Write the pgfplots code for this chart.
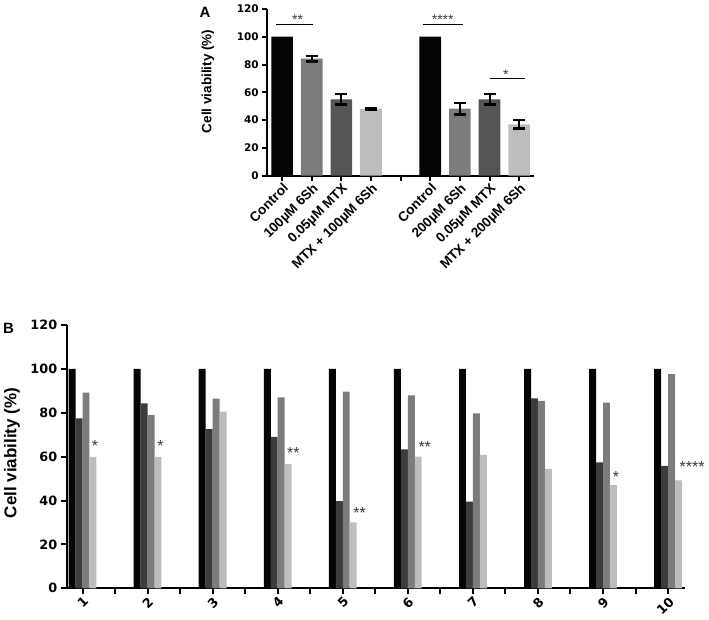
\documentclass[border=0pt]{standalone}
\usepackage{pgfplots}
\pgfplotsset{compat=1.18}
\usepackage{fontspec}
\setmainfont{Liberation Sans}
\newfontfamily\numfont{DejaVu Sans}
\definecolor{cblack}{HTML}{050505}
\definecolor{adark}{HTML}{555555}
\definecolor{amid}{HTML}{7C7C7C}
\definecolor{alight}{HTML}{BDBDBD}
\definecolor{bdark}{HTML}{3C3C3C}
\definecolor{bmid}{HTML}{7C7C7C}
\definecolor{blight}{HTML}{BDBDBD}
\definecolor{starc}{HTML}{3A3A3A}
\pgfplotsset{
  common/.style={
    scale only axis, anchor=south west, clip=false,
    ymin=0, ymax=120, ytick={0,20,...,120},
    axis x line*=bottom, axis y line*=left,
    axis line style={-, line width=2pt, black},
    tick style={line width=2pt, black},
    tick align=outside,
    /pgf/number format/assume math mode=true,
    ybar,
  },
}
\tikzset{
  astar/.style={anchor=base, yshift=-8pt, inner sep=0pt, text=starc, font=\fontsize{14}{16}\selectfont},
  bstar/.style={anchor=base, yshift=-9pt, inner sep=0pt, text=starc, font=\fontsize{16}{18}\selectfont},
}
\begin{document}
\begin{tikzpicture}
\useasboundingbox (0pt,0pt) rectangle (709pt,-619pt);
% ---------------- Panel A ----------------
\begin{axis}[common,
  at={(267.3pt,-175.7pt)}, width=266.7pt, height=166.8pt,
  xmin=-0.5, xmax=8.5,
  major tick length=5pt,
  xtick={0,...,8},
  xticklabels={Control, 100µM 6Sh, 0.05µM MTX, MTX + 100µM 6Sh, {}, Control, 200µM 6Sh, 0.05µM MTX, MTX + 200µM 6Sh},
  x tick label style={rotate=45, anchor=north east, inner sep=1pt, font=\bfseries\fontsize{13.5}{15}\selectfont},
  y tick label style={font=\numfont\bfseries\fontsize{10.5}{12}\selectfont},
  bar width=0.73,
  error bars/y dir=both, error bars/y explicit,
  error bars/error bar style={line width=2pt, black},
  error bars/error mark options={rotate=90, line width=2.5pt, mark size=6pt, black},
]
\addplot[fill=cblack, draw=none, bar shift=0] coordinates {(0,100) (5,100)};
\addplot[fill=amid, draw=none, bar shift=0] coordinates {(1,84.2) +- (0,2.0) (6,48.2) +- (0,4.0)};
\addplot[fill=adark, draw=none, bar shift=0] coordinates {(2,55) +- (0,3.8) (7,55) +- (0,3.8)};
\addplot[fill=alight, draw=none, bar shift=0] coordinates {(3,48.2) +- (0,0.6) (8,37) +- (0,2.9)};
\draw[line width=1.5pt] (axis cs:-0.2,108.9) -- (axis cs:1.05,108.9);
\node[astar] at (axis cs:0.52,114.5) {**};
\draw[line width=1.5pt] (axis cs:4.76,108.9) -- (axis cs:6.11,108.9);
\node[astar] at (axis cs:5.42,114.5) {****};
\draw[line width=1.5pt] (axis cs:7.0,69.8) -- (axis cs:8.2,69.8);
\node[astar] at (axis cs:7.55,74.8) {*};
\end{axis}
\node[font=\bfseries\fontsize{15}{17}\selectfont] at (205pt,-12.8pt) {A};
\node[rotate=90, font=\bfseries\fontsize{13.5}{15}\selectfont] at (208pt,-81.3pt) {Cell viability (\%)};
% ---------------- Panel B ----------------
\begin{axis}[common,
  at={(66.7pt,-588.3pt)}, width=618.3pt, height=263.2pt,
  xmin=0.757, xmax=10.26,
  major tick length=6pt, minor tick length=6pt,
  xtick={1,...,10},
  minor xtick={1.5,2.5,...,9.5},
  x tick label style={rotate=45, anchor=north east, inner sep=1pt, font=\numfont\bfseries\fontsize{12.8}{14}\selectfont},
  y tick label style={font=\numfont\bfseries\fontsize{12.8}{14}\selectfont},
  bar width=0.107,
]
\addplot[fill=cblack, draw=none, bar shift=-0.16] coordinates {(1,100) (2,100) (3,100) (4,100) (5,100) (6,100) (7,100) (8,100) (9,100) (10,100)};
\addplot[fill=bdark, draw=none, bar shift=-0.0535] coordinates {(1,77.5) (2,84.3) (3,72.6) (4,69.1) (5,39.8) (6,63.4) (7,39.5) (8,86.6) (9,57.4) (10,55.8)};
\addplot[fill=bmid, draw=none, bar shift=0.0535] coordinates {(1,89.2) (2,79.0) (3,86.5) (4,87.1) (5,89.7) (6,88.0) (7,79.8) (8,85.4) (9,84.7) (10,97.6)};
\addplot[fill=blight, draw=none, bar shift=0.16] coordinates {(1,59.9) (2,59.9) (3,80.5) (4,56.7) (5,30.1) (6,60.0) (7,60.8) (8,54.4) (9,47.1) (10,49.2)};
\node[bstar] at (axis cs:1.19,66.4) {*};
\node[bstar] at (axis cs:2.20,66.4) {*};
\node[bstar] at (axis cs:4.24,63.4) {**};
\node[bstar] at (axis cs:5.26,36.0) {**};
\node[bstar] at (axis cs:6.26,66.1) {**};
\node[bstar] at (axis cs:9.20,52.4) {*};
\node[bstar] at (axis cs:10.37,56.7) {****};
\end{axis}
\node[font=\bfseries\fontsize{15}{17}\selectfont] at (8.5pt,-328.5pt) {B};
\node[rotate=90, font=\bfseries\fontsize{17}{19}\selectfont] at (12pt,-453pt) {Cell viability (\%)};
\end{tikzpicture}
\end{document}
